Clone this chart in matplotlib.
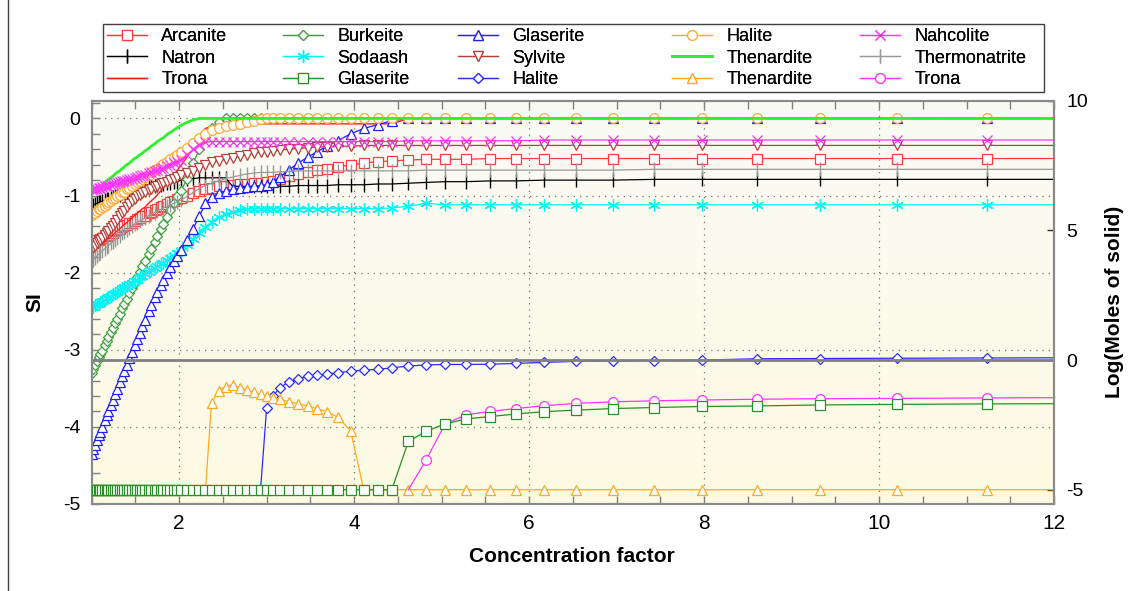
import matplotlib
matplotlib.use("Agg")
import matplotlib.pyplot as plt
import numpy as np
from matplotlib import font_manager
from matplotlib.colors import LinearSegmentedColormap
from matplotlib.lines import Line2D
from matplotlib.patches import Rectangle
from matplotlib.ticker import MultipleLocator

# concentration factor at each evaporation step (shared x for every series)
cf = [1.00, 1.02, 1.04, 1.06, 1.08, 1.10, 1.12, 1.15, 1.17, 1.19,
      1.22, 1.24, 1.27, 1.29, 1.32, 1.35, 1.37, 1.40, 1.43, 1.46,
      1.49, 1.52, 1.55, 1.58, 1.61, 1.65, 1.68, 1.72, 1.75, 1.79,
      1.82, 1.86, 1.90, 1.94, 1.98, 2.02, 2.09, 2.16, 2.23, 2.30,
      2.37, 2.45, 2.53, 2.61, 2.69, 2.77, 2.85, 2.93, 3.00, 3.07,
      3.15, 3.25, 3.36, 3.47, 3.58, 3.69, 3.81, 3.96, 4.11, 4.27,
      4.43, 4.62, 4.82, 5.04, 5.28, 5.55, 5.85, 6.17, 6.54, 6.96,
      7.43, 7.98, 8.61, 9.33, 10.2, 11.23, 12.4]

# saturation indices (left axis)
si_arcanite = [-1.62, -1.61, -1.60, -1.58, -1.57, -1.56, -1.55, -1.53, -1.52, -1.51,
               -1.49, -1.48, -1.46, -1.45, -1.43, -1.41, -1.40, -1.38, -1.36, -1.35,
               -1.33, -1.31, -1.29, -1.27, -1.26, -1.23, -1.21, -1.19, -1.17, -1.15,
               -1.13, -1.11, -1.09, -1.07, -1.05, -1.03, -1.00, -0.97, -0.94, -0.92,
               -0.90, -0.88, -0.87, -0.86, -0.85, -0.85, -0.84, -0.84, -0.83, -0.81,
               -0.78, -0.75, -0.72, -0.69, -0.67, -0.65, -0.63, -0.60, -0.58, -0.56,
               -0.55, -0.54, -0.53, -0.53, -0.53, -0.52, -0.52, -0.52, -0.52, -0.52,
               -0.52, -0.52, -0.52, -0.52, -0.52, -0.52, -0.52]
si_natron = [-1.13, -1.12, -1.11, -1.10, -1.09, -1.08, -1.07, -1.06, -1.05, -1.04,
             -1.03, -1.02, -1.01, -1.00, -0.99, -0.97, -0.96, -0.95, -0.94, -0.93,
             -0.92, -0.91, -0.91, -0.90, -0.89, -0.88, -0.88, -0.87, -0.86, -0.86,
             -0.85, -0.84, -0.84, -0.83, -0.82, -0.80, -0.79, -0.78, -0.77, -0.77,
             -0.77, -0.77, -0.77, -0.88, -0.88, -0.88, -0.88, -0.88, -0.88, -0.88,
             -0.88, -0.88, -0.87, -0.87, -0.87, -0.87, -0.86, -0.86, -0.86, -0.85,
             -0.85, -0.84, -0.83, -0.82, -0.82, -0.81, -0.81, -0.80, -0.80, -0.80,
             -0.79, -0.79, -0.79, -0.79, -0.79, -0.79, -0.79]
si_trona = [-1.75, -1.73, -1.71, -1.69, -1.67, -1.65, -1.63, -1.60, -1.58, -1.56,
            -1.53, -1.51, -1.48, -1.46, -1.43, -1.40, -1.38, -1.35, -1.32, -1.29,
            -1.26, -1.23, -1.20, -1.17, -1.15, -1.10, -1.07, -1.03, -0.99, -0.94,
            -0.90, -0.85, -0.79, -0.73, -0.67, -0.61, -0.50, -0.37, -0.23, -0.13,
            -0.10, -0.09, -0.08, -0.07, -0.07, -0.07, -0.07, -0.07, -0.07, -0.07,
            -0.07, -0.07, -0.07, -0.07, -0.07, -0.07, -0.07, -0.07, -0.07, -0.07,
            -0.07, 0, 0, 0, 0, 0, 0, 0, 0, 0,
            0, 0, 0, 0, 0, 0, 0]
si_burkeite = [-3.30, -3.25, -3.20, -3.15, -3.10, -3.06, -3.01, -2.94, -2.89, -2.84,
               -2.77, -2.72, -2.65, -2.60, -2.53, -2.46, -2.41, -2.34, -2.27, -2.20,
               -2.13, -2.06, -1.99, -1.92, -1.85, -1.76, -1.69, -1.60, -1.53, -1.44,
               -1.37, -1.28, -1.19, -1.10, -1.01, -0.94, -0.78, -0.58, -0.40, -0.24,
               -0.13, -0.05, 0, 0, 0, 0, 0, 0, 0, 0,
               0, 0, 0, 0, 0, 0, 0, 0, 0, 0,
               0, 0, 0, 0, 0, 0, 0, 0, 0, 0,
               0, 0, 0, 0, 0, 0, 0]
si_sodaash = [-2.45, -2.44, -2.42, -2.41, -2.40, -2.38, -2.37, -2.35, -2.33, -2.32,
              -2.30, -2.28, -2.26, -2.25, -2.23, -2.20, -2.19, -2.17, -2.15, -2.13,
              -2.11, -2.09, -2.06, -2.04, -2.02, -1.99, -1.97, -1.94, -1.92, -1.89,
              -1.87, -1.84, -1.81, -1.78, -1.75, -1.72, -1.64, -1.56, -1.48, -1.41,
              -1.34, -1.28, -1.24, -1.21, -1.19, -1.18, -1.17, -1.17, -1.17, -1.17,
              -1.17, -1.17, -1.17, -1.17, -1.17, -1.17, -1.17, -1.17, -1.17, -1.17,
              -1.16, -1.14, -1.10, -1.12, -1.12, -1.12, -1.12, -1.12, -1.12, -1.12,
              -1.12, -1.12, -1.12, -1.12, -1.12, -1.12, -1.12]
si_glaserite = [-4.35, -4.29, -4.23, -4.17, -4.11, -4.06, -4.00, -3.91, -3.85, -3.80,
                -3.71, -3.65, -3.57, -3.51, -3.42, -3.34, -3.28, -3.20, -3.11, -3.03,
                -2.94, -2.86, -2.78, -2.69, -2.61, -2.50, -2.42, -2.32, -2.25, -2.16,
                -2.09, -2.01, -1.93, -1.85, -1.78, -1.71, -1.58, -1.43, -1.27, -1.10,
                -1.02, -0.97, -0.94, -0.92, -0.90, -0.89, -0.88, -0.87, -0.86, -0.82,
                -0.76, -0.67, -0.58, -0.50, -0.43, -0.36, -0.29, -0.20, -0.13, -0.08,
                -0.03, 0, 0, 0, 0, 0, 0, 0, 0, 0,
                0, 0, 0, 0, 0, 0, 0]
si_sylvite = [-1.70, -1.67, -1.65, -1.62, -1.60, -1.57, -1.55, -1.51, -1.48, -1.46,
              -1.42, -1.39, -1.35, -1.32, -1.27, -1.23, -1.20, -1.15, -1.11, -1.07,
              -1.04, -1.01, -0.99, -0.97, -0.95, -0.93, -0.91, -0.89, -0.87, -0.85,
              -0.84, -0.82, -0.80, -0.78, -0.76, -0.74, -0.71, -0.68, -0.64, -0.61,
              -0.57, -0.55, -0.53, -0.51, -0.49, -0.47, -0.45, -0.44, -0.43, -0.42,
              -0.41, -0.40, -0.39, -0.38, -0.37, -0.37, -0.36, -0.36, -0.35, -0.35,
              -0.35, -0.35, -0.35, -0.35, -0.35, -0.35, -0.35, -0.35, -0.35, -0.35,
              -0.35, -0.35, -0.35, -0.35, -0.35, -0.35, -0.35]
si_halite = [-1.25, -1.23, -1.22, -1.20, -1.18, -1.17, -1.15, -1.13, -1.11, -1.09,
             -1.07, -1.05, -1.03, -1.01, -0.99, -0.96, -0.95, -0.92, -0.90, -0.88,
             -0.85, -0.83, -0.81, -0.78, -0.76, -0.73, -0.70, -0.67, -0.65, -0.62,
             -0.59, -0.56, -0.53, -0.50, -0.47, -0.44, -0.38, -0.32, -0.26, -0.20,
             -0.15, -0.12, -0.10, -0.08, -0.07, -0.05, -0.03, -0.01, 0, 0,
             0, 0, 0, 0, 0, 0, 0, 0, 0, 0,
             0, 0, 0, 0, 0, 0, 0, 0, 0, 0,
             0, 0, 0, 0, 0, 0, 0]
si_thenardite = [-0.97, -0.95, -0.93, -0.91, -0.89, -0.88, -0.86, -0.83, -0.81, -0.79,
                 -0.77, -0.75, -0.72, -0.70, -0.68, -0.65, -0.63, -0.60, -0.58, -0.55,
                 -0.52, -0.50, -0.47, -0.45, -0.42, -0.39, -0.36, -0.33, -0.30, -0.27,
                 -0.25, -0.21, -0.18, -0.15, -0.12, -0.09, -0.05, -0.02, 0, 0,
                 0, 0, 0, 0, 0, 0, 0, 0, 0, 0,
                 0, 0, 0, 0, 0, 0, 0, 0, 0, 0,
                 0, 0, 0, 0, 0, 0, 0, 0, 0, 0,
                 0, 0, 0, 0, 0, 0, 0]
si_nahcolite = [-0.93, -0.92, -0.92, -0.91, -0.90, -0.90, -0.89, -0.88, -0.87, -0.87,
                -0.86, -0.85, -0.84, -0.83, -0.82, -0.81, -0.81, -0.80, -0.79, -0.78,
                -0.77, -0.76, -0.75, -0.74, -0.73, -0.71, -0.70, -0.68, -0.67, -0.65,
                -0.64, -0.62, -0.60, -0.58, -0.56, -0.54, -0.47, -0.40, -0.34, -0.31,
                -0.30, -0.30, -0.30, -0.30, -0.30, -0.30, -0.30, -0.30, -0.30, -0.30,
                -0.30, -0.30, -0.30, -0.30, -0.30, -0.30, -0.30, -0.30, -0.30, -0.30,
                -0.30, -0.29, -0.29, -0.29, -0.29, -0.29, -0.29, -0.28, -0.28, -0.28,
                -0.28, -0.28, -0.28, -0.28, -0.28, -0.28, -0.28]
si_thermonatrite = [-1.85, -1.83, -1.81, -1.78, -1.76, -1.74, -1.72, -1.69, -1.67, -1.65,
                    -1.62, -1.60, -1.57, -1.55, -1.52, -1.49, -1.47, -1.45, -1.42, -1.40,
                    -1.37, -1.35, -1.33, -1.31, -1.29, -1.26, -1.24, -1.22, -1.20, -1.18,
                    -1.16, -1.14, -1.12, -1.10, -1.08, -1.06, -1.01, -0.96, -0.91, -0.87,
                    -0.84, -0.81, -0.78, -0.76, -0.74, -0.72, -0.71, -0.70, -0.70, -0.70,
                    -0.69, -0.69, -0.68, -0.68, -0.68, -0.68, -0.68, -0.68, -0.68, -0.68,
                    -0.68, -0.68, -0.67, -0.67, -0.67, -0.67, -0.67, -0.67, -0.67, -0.67,
                    -0.66, -0.66, -0.66, -0.66, -0.66, -0.66, -0.66]

# log(moles of solid) (right axis). -5 is the floor used for "no solid yet".
# glaserite covers every step, the others start partway along cf
lm_glaserite = [-5, -5, -5, -5, -5, -5, -5, -5, -5, -5,
                -5, -5, -5, -5, -5, -5, -5, -5, -5, -5,
                -5, -5, -5, -5, -5, -5, -5, -5, -5, -5,
                -5, -5, -5, -5, -5, -5, -5, -5, -5, -5,
                -5, -5, -5, -5, -5, -5, -5, -5, -5, -5,
                -5, -5, -5, -5, -5, -5, -5, -5, -5, -5,
                -5, -3.14, -2.75, -2.46, -2.27, -2.18, -2.08, -1.99, -1.93, -1.87,
                -1.83, -1.79, -1.77, -1.73, -1.71, -1.69, -1.68]
lm_halite = [-5, -1.83, -1.38, -1.08, -0.84, -0.72, -0.62, -0.59, -0.54, -0.49,
             -0.43, -0.39, -0.36, -0.30, -0.23, -0.19, -0.17, -0.17, -0.16, -0.13,
             -0.09, -0.05, -0.04, -0.02, 0.0, 0.05, 0.06, 0.07, 0.08, 0.09]
lm_thenardite = [-5, -1.65, -1.19, -1.02, -0.95, -1.07, -1.16, -1.25, -1.31, -1.38,
                 -1.45, -1.52, -1.60, -1.68, -1.78, -1.88, -2.00, -2.20, -2.72, -5,
                 -5, -5, -5, -5, -5, -5, -5, -5, -5, -5,
                 -5, -5, -5, -5, -5, -5, -5, -5]
lm_trona = [-5, -3.87, -2.46, -2.11, -1.98, -1.87, -1.76, -1.67, -1.61, -1.57,
            -1.54, -1.51, -1.49, -1.48, -1.46, -1.45]

x_ticks = [2, 4, 6, 8, 10, 12]
si_ticks = [0, -1, -2, -3, -4, -5]
lm_ticks = [10, 5, 0, -5]

W, H = 1133, 591
# left edge (px) of each legend column, as in the picture
legend_cols_px = [107, 283, 458, 672, 860]


def pick_narrow():
    names = {f.name for f in font_manager.fontManager.ttflist}
    if "Liberation Sans Narrow" in names:
        return "Liberation Sans Narrow"
    return "Liberation Sans"


def tail(values):
    # x positions for a series that only starts partway along cf
    return cf[len(cf) - len(values):]


def make_plot():
    plt.rcParams["font.family"] = ["Liberation Sans", "DejaVu Sans"]
    plt.rcParams["axes.unicode_minus"] = False
    narrow = pick_narrow()

    fig = plt.figure(figsize=(W / 100, H / 100), dpi=100)
    fig.patch.set_facecolor("white")
    ax = fig.add_axes([91.7 / W, 1 - 504 / H, (1054 - 91.7) / W, (504 - 100.7) / H])
    ax2 = ax.twinx()

    #pale yellow gradient behind the plot
    bg = LinearSegmentedColormap.from_list("bg", ["#fdfbe2", "#fafaf6"])
    ax.imshow(np.linspace(0, 1, 256).reshape(-1, 1), cmap=bg, origin="lower",
              extent=[0, 1, 0, 1], transform=ax.transAxes, aspect="auto", zorder=0)

    open_m = dict(mfc="white", mew=0.9, lw=0.9)

    # SI series (left axis)
    h_arc, = ax.plot(cf, si_arcanite, color="#ff3b3b", marker="s", ms=7, label="Arcanite", **open_m)
    h_nat, = ax.plot(cf, si_natron, color="black", marker="|", ms=10, mew=1.0, lw=0.9, label="Natron")
    h_tro, = ax.plot(cf, si_trona, color="#ff1a1a", lw=1.0, label="Trona")
    h_bur, = ax.plot(cf, si_burkeite, color="#3f9f3f", marker="D", ms=5.5, label="Burkeite", **open_m)
    h_sod, = ax.plot(cf, si_sodaash, color="#00f5f5", marker=(6, 2, 0), ms=9, mew=0.9, lw=0.9, label="Sodaash")
    h_gls, = ax.plot(cf, si_glaserite, color="#1f1fff", marker="^", ms=7.5, label="Glaserite", **open_m)
    h_syl, = ax.plot(cf, si_sylvite, color="#b5403a", marker="v", ms=7.5, label="Sylvite", **open_m)
    h_hal, = ax.plot(cf, si_halite, color="#ffaa33", marker="o", ms=7, label="Halite", **open_m)
    h_the, = ax.plot(cf, si_thenardite, color="#2ef02e", lw=2.0, label="Thenardite")
    h_nah, = ax.plot(cf, si_nahcolite, color="#ff33ff", marker="x", ms=6.5, mew=0.9, lw=0.9, label="Nahcolite")
    h_thm, = ax.plot(cf, si_thermonatrite, color="#999999", marker="|", ms=10, mew=1.0, lw=0.9, label="Thermonatrite")

    # log moles of solid (right axis)
    ax2.axhline(0, color="#808080", lw=2, zorder=2.5)
    h_glm, = ax2.plot(cf, lm_glaserite, color="#2a8f2a", marker="s", ms=7, zorder=3, label="Glaserite", **open_m)
    h_ham, = ax2.plot(tail(lm_halite), lm_halite, color="#2b2bff", marker="D", ms=5.5,
                      markevery=(1, 1), label="Halite", **open_m)
    h_thn, = ax2.plot(tail(lm_thenardite), lm_thenardite, color="#ffaa22", marker="^", ms=7.5,
                      markevery=(1, 1), label="Thenardite", **open_m)
    h_trm, = ax2.plot(tail(lm_trona), lm_trona, color="#ff33ff", marker="o", ms=7,
                      markevery=(1, 1), label="Trona", **open_m)

    ax.set_xlim(1, 12)
    ax.set_ylim(-5, 0.23)
    ax2.set_ylim(-5.55, 9.88)

    ax.set_xticks(x_ticks)
    ax.set_xticklabels([str(t) for t in x_ticks], fontsize=15, fontfamily=narrow)
    ax.xaxis.set_minor_locator(MultipleLocator(0.5))
    ax.set_yticks(si_ticks)
    ax.set_yticklabels([str(t) for t in si_ticks], fontsize=14)
    ax.yaxis.set_minor_locator(MultipleLocator(0.2))
    ax2.set_yticks(lm_ticks)
    ax2.set_yticklabels([str(t) for t in lm_ticks], fontsize=14)

    ax.tick_params(which="both", direction="in", top=True, right=False,
                   length=6, width=1, color="#808080")
    ax.tick_params(axis="x", pad=7)
    ax.tick_params(axis="y", pad=8)
    ax2.tick_params(direction="in", length=5, width=1, color="#303030", pad=9)

    ax.grid(True, which="major", linestyle=(0, (1, 4)), color="#707070", lw=0.9)
    for a in (ax, ax2):
        for s in a.spines.values():
            s.set_color("#8a8a8a")
            s.set_linewidth(1.5)

    ax.set_xlabel("Concentration factor", fontsize=15, fontweight="bold",
                  fontfamily=narrow, va="center")
    ax.xaxis.set_label_coords((572 - 91.7) / 962.3, -(557 - 504) / 403.3)
    ax.set_ylabel("SI", fontsize=15, fontweight="bold", va="center")
    ax.yaxis.set_label_coords(-(91.7 - 34.5) / 962.3, 0.5)
    ax2.set_ylabel("Log(Moles of solid)", fontsize=15, fontweight="bold",
                   rotation=90, va="center")
    ax2.yaxis.set_label_coords((1114 - 91.7) / 962.3, 0.5)

    # legend: one frame, five columns placed where the original has them
    fig.add_artist(Rectangle((103 / W, 1 - 92 / H), (1044 - 103) / W, 68 / H,
                             transform=fig.transFigure, facecolor="white",
                             edgecolor="#404040", lw=1))
    columns = [[h_arc, h_nat, h_tro], [h_bur, h_sod, h_glm], [h_gls, h_syl, h_ham],
               [h_hal, h_the, h_thn], [h_nah, h_thm, h_trm]]
    for px, col in zip(legend_cols_px, columns):
        leg = fig.legend(col, [h.get_label() for h in col], loc="upper left",
                         bbox_to_anchor=(px / W, 1 - 28 / H), fontsize=13, numpoints=1,
                         handlelength=2.2, handletextpad=0.8, labelspacing=0.25,
                         borderpad=0, borderaxespad=0, frameon=False)
        fig.add_artist(leg)

    #thin border line down the left edge of the picture
    fig.add_artist(Line2D([8 / W, 8 / W], [0, 1], color="#404040", lw=1))

    fig.savefig("out.png", dpi=100)


if __name__ == "__main__":
    make_plot()
